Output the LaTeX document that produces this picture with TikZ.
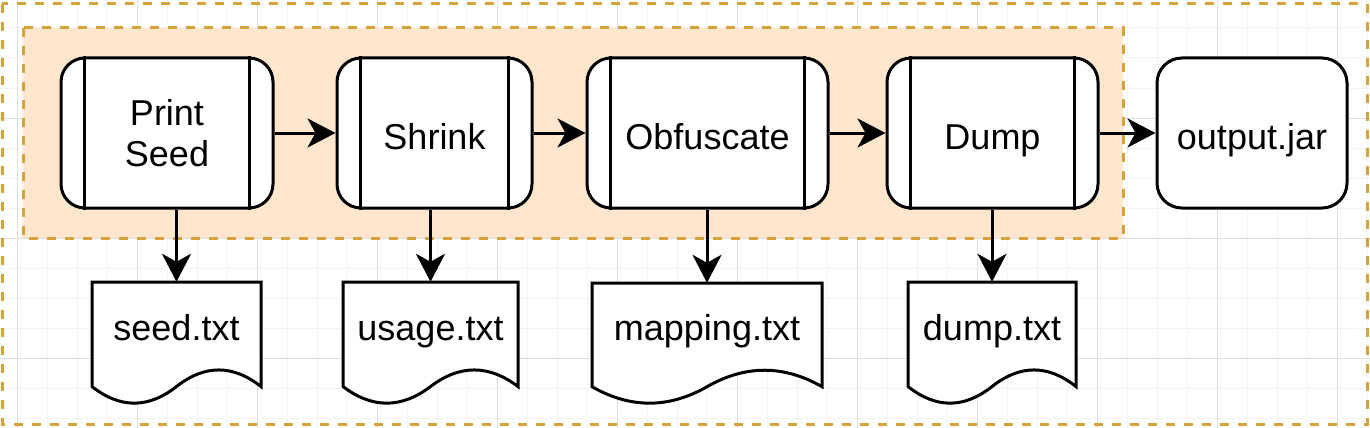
\documentclass[tikz,border=0pt]{standalone}
\usepackage{fontspec}
\setmainfont{Liberation Sans}
\usetikzlibrary{arrows.meta,calc}
\definecolor{peach}{HTML}{FFE6CC}
\definecolor{gold}{HTML}{D6A23A}
\definecolor{gridminor}{HTML}{F3F3F3}
\definecolor{gridmajor}{HTML}{DEDEDE}
\newcommand\docshape[6]{%
  \pgfmathsetmacro\dsW{#4-#2}%
  \pgfmathsetmacro\dsH{#5-#3}%
  \pgfmathsetmacro\dsD{0.3*\dsH}%
  \pgfmathsetmacro\dsE{#5-0.5*\dsD}%
  \pgfmathsetmacro\dsU{\dsE-0.6*\dsD}%
  \pgfmathsetmacro\dsL{\dsE+0.6*\dsD}%
  \pgfmathsetmacro\dsX{(#2+#4)/2}%
  \pgfmathsetmacro\dsY{(#3+#5)/2}%
  \node[docnode, minimum width=\dsW pt, minimum height=\dsH pt] (#1) at (\dsX,\dsY) {};
  \draw[docline] (#2,#3) -- (#4,#3) -- (#4,\dsE)
    .. controls ({#4-\dsW/6},\dsU) and ({#2+2*\dsW/3},\dsU) .. (\dsX,\dsE)
    .. controls ({#2+\dsW/3},\dsL) and ({#2+\dsW/6},\dsL) .. (#2,\dsE) -- cycle;
  \node[doctext] (#1lbl) at (\dsX,340) {#6};
}
\begin{document}
\begin{tikzpicture}[x=1pt,y=-1pt,
  mainfont/.style={font=\fontsize{36}{41}\selectfont},
  procbox/.style={draw, line width=3pt, fill=white, rounded corners=24pt,
    minimum height=150pt, inner sep=0pt, align=center, mainfont},
  onetext/.style={text height=32pt, text depth=0pt},
  endbox/.style={draw, line width=3pt, fill=white, rounded corners=25pt,
    minimum height=150pt, minimum width=190pt, inner sep=0pt, mainfont, onetext},
  docnode/.style={inner sep=0pt},
  docline/.style={draw, line width=3pt, fill=white, line join=miter},
  doctext/.style={anchor=base, inner sep=0pt, mainfont},
  flow/.style={line width=3pt, -{Stealth[length=28pt, width=29pt, inset=8pt]}},
  region/.style={draw=gold, line width=3pt, dash pattern=on 9pt off 9pt},
  gmin/.style={draw=gridminor, line width=1pt},
  gmaj/.style={draw=gridmajor, line width=1pt}
]
\useasboundingbox (0,0) rectangle (1370,428);
% grid
\foreach \i in {0,...,45} \draw[gmin] ({17+30*\i},0) -- ({17+30*\i},428);
\foreach \j in {1,...,14} \draw[gmin] (0,{-2+30*\j}) -- (1370,{-2+30*\j});
\foreach \i in {0,...,11} \draw[gmaj] ({17+120*\i},0) -- ({17+120*\i},428);
\foreach \j in {1,2,3} \draw[gmaj] (0,{-2+120*\j}) -- (1370,{-2+120*\j});
% containers
\draw[region] (2,4) rectangle (1367,424);
\draw[region, fill=peach] (23,28) rectangle (1123,238);
% process boxes
\node[procbox, minimum width=212pt] (printseed) at (167,133) {Print\\Seed};
\node[procbox, onetext, minimum width=195pt] (shrink) at (434.5,133) {Shrink};
\node[procbox, onetext, minimum width=241pt] (obfuscate) at (707.5,133) {Obfuscate};
\node[procbox, onetext, minimum width=211pt] (dump) at (992.5,133) {Dump};
\node[endbox] (output) at (1252,133) {output.jar};
\foreach \n in {printseed,shrink,obfuscate,dump}{
  \draw[line width=3pt] ([xshift=25pt]\n.north west) -- ([xshift=25pt]\n.south west);
  \draw[line width=3pt] ([xshift=-25pt]\n.north east) -- ([xshift=-25pt]\n.south east);
}
% documents
\docshape{seed}{92}{282}{261}{405}{seed.txt}
\docshape{usage}{343}{282}{518}{405}{usage.txt}
\docshape{mapping}{592}{283}{822}{405}{mapping.txt}
\docshape{dumpfile}{908}{282}{1076}{405}{dump.txt}
% connectors
\draw[flow] (printseed.east) -- (shrink.west);
\draw[flow] (shrink.east) -- (obfuscate.west);
\draw[flow] (obfuscate.east) -- (dump.west);
\draw[flow] (dump.east) -- (output.west);
\draw[flow] (seed.north |- printseed.south) -- (seed.north);
\draw[flow] (usage.north |- shrink.south) -- (usage.north);
\draw[flow] (mapping.north |- obfuscate.south) -- (mapping.north);
\draw[flow] (dumpfile.north |- dump.south) -- (dumpfile.north);
\end{tikzpicture}
\end{document}
